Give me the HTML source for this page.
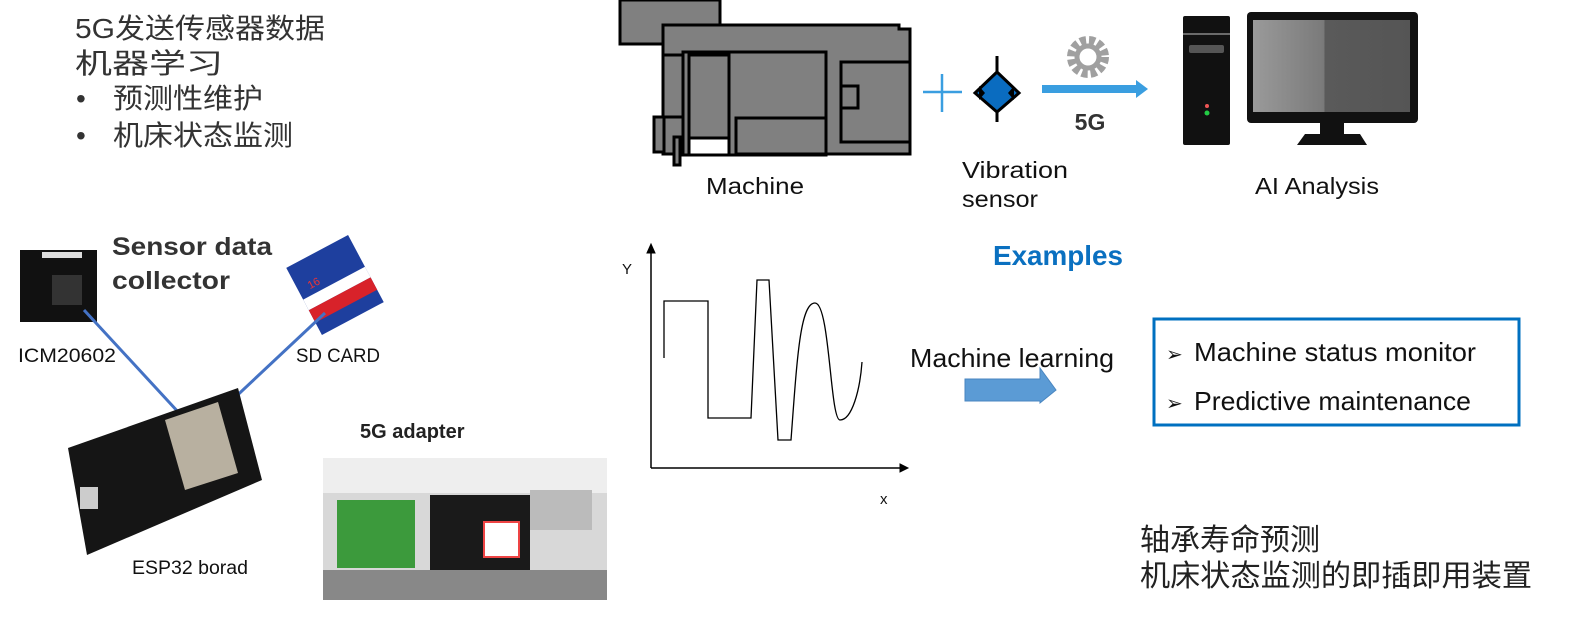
<!DOCTYPE html>
<html><head><meta charset="utf-8"><style>
body{margin:0;background:#fff;width:1570px;height:631px;overflow:hidden}
svg{display:block}
text{font-family:"Liberation Sans","Noto Sans CJK SC",sans-serif}
</style></head><body>
<svg width="1570" height="631" viewBox="0 0 1570 631">
<defs>
<linearGradient id="scr" x1="0" y1="0" x2="1" y2="0"><stop offset="0" stop-color="#9a9a9a"/><stop offset="0.45" stop-color="#7a7a7a"/><stop offset="0.46" stop-color="#5a5a5a"/><stop offset="1" stop-color="#555"/></linearGradient>
</defs>
<g font-size="28" fill="#333">
<text x="75" y="38" textLength="250" lengthAdjust="spacingAndGlyphs">5G发送传感器数据</text>
<text x="75" y="73" textLength="148" lengthAdjust="spacingAndGlyphs">机器学习</text>
<text x="76" y="108">•</text><text x="113" y="108" textLength="150" lengthAdjust="spacingAndGlyphs">预测性维护</text>
<text x="76" y="145">•</text><text x="113" y="145" textLength="180" lengthAdjust="spacingAndGlyphs">机床状态监测</text>
</g>
<g stroke="#000" stroke-width="3" fill="#808080">
<rect x="620" y="0" width="100" height="44"/>
<polygon points="663,25 899,25 899,29 910,29 910,154 663,154"/>
<rect x="663" y="55" width="22" height="62"/>
<rect x="683" y="52" width="143" height="103"/>
<rect x="689" y="55" width="40" height="98"/>
<rect x="841" y="62" width="69" height="80"/>
<rect x="841" y="86" width="17" height="22"/>
<rect x="736" y="118" width="90" height="36"/>
<rect x="689" y="138" width="40" height="17" fill="#fff"/>
<rect x="674" y="137" width="6" height="28"/>
<rect x="654" y="117" width="10" height="35"/>
</g>
<text x="706" y="194" font-size="23" fill="#111" textLength="98" lengthAdjust="spacingAndGlyphs">Machine</text>
<g stroke="#3a9ee0" stroke-width="2.5"><line x1="923" y1="92" x2="962" y2="92"/><line x1="942" y1="74" x2="942" y2="112"/></g>
<line x1="997" y1="56" x2="997" y2="122" stroke="#000" stroke-width="3"/>
<polygon points="997,72 1019,93 997,112 975,93" fill="#0a6cc0" stroke="#000" stroke-width="3"/>
<polygon points="979,86 979,100 985,93" fill="#000"/>
<polygon points="1014,86 1014,100 1008,93" fill="#000"/>
<text x="962" y="178" font-size="23" fill="#111" textLength="106" lengthAdjust="spacingAndGlyphs">Vibration</text>
<text x="962" y="207" font-size="23" fill="#111" textLength="76" lengthAdjust="spacingAndGlyphs">sensor</text>
<rect x="1042" y="85" width="96" height="8" fill="#3a9ee0"/>
<polygon points="1136,80 1148,89 1136,98" fill="#3a9ee0"/>
<circle cx="1088" cy="57" r="17" fill="none" stroke="#a0a0a0" stroke-width="8" stroke-dasharray="6 3"/>
<circle cx="1088" cy="57" r="11" fill="none" stroke="#a0a0a0" stroke-width="5"/>
<text x="1090" y="130" font-size="23" font-weight="bold" text-anchor="middle" fill="#333">5G</text>
<rect x="1183" y="16" width="47" height="129" rx="2" fill="#111"/>
<line x1="1183" y1="34" x2="1230" y2="34" stroke="#888" stroke-width="1.5"/>
<rect x="1189" y="45" width="35" height="8" rx="2" fill="#555"/>
<circle cx="1207" cy="106" r="2" fill="#e55"/><circle cx="1207" cy="113" r="2.5" fill="#2c4"/>
<rect x="1247" y="12" width="171" height="111" rx="4" fill="#111"/>
<rect x="1253" y="20" width="157" height="92" fill="url(#scr)"/>
<rect x="1320" y="123" width="24" height="12" fill="#111"/>
<polygon points="1305,134 1360,134 1367,145 1297,145" fill="#111"/>
<text x="1255" y="194" font-size="23" fill="#111" textLength="124" lengthAdjust="spacingAndGlyphs">AI Analysis</text>
<rect x="20" y="250" width="77" height="72" fill="#111"/>
<rect x="52" y="275" width="30" height="30" fill="#333"/>
<rect x="42" y="252" width="40" height="6" fill="#ddd"/>
<text x="112" y="255" font-size="25" font-weight="bold" fill="#333" textLength="160" lengthAdjust="spacingAndGlyphs">Sensor data</text>
<text x="112" y="289" font-size="25" font-weight="bold" fill="#333" textLength="118" lengthAdjust="spacingAndGlyphs">collector</text>
<g transform="translate(335,285) rotate(-28)">
<rect x="-35" y="-38" width="70" height="76" fill="#1e3f9e"/>
<rect x="-35" y="-2" width="70" height="12" fill="#fff"/>
<rect x="-35" y="10" width="70" height="14" fill="#d8222a"/>
<text x="-24" y="-8" font-size="11" fill="#e33">16</text>
</g>
<line x1="84" y1="310" x2="180" y2="414" stroke="#4472c4" stroke-width="3"/>
<line x1="325" y1="313" x2="228" y2="404" stroke="#4472c4" stroke-width="3"/>
<text x="18" y="362" font-size="19" fill="#111" textLength="98" lengthAdjust="spacingAndGlyphs">ICM20602</text>
<text x="296" y="362" font-size="19" fill="#111" textLength="84" lengthAdjust="spacingAndGlyphs">SD CARD</text>
<polygon points="68,448 238,388 262,480 87,555" fill="#151515"/>
<polygon points="165,420 218,402 238,473 185,490" fill="#b8b0a0"/>
<rect x="80" y="487" width="18" height="22" fill="#ccc"/>
<text x="132" y="574" font-size="19" fill="#111" textLength="116" lengthAdjust="spacingAndGlyphs">ESP32 borad</text>
<text x="360" y="438" font-size="20" font-weight="bold" fill="#222">5G adapter</text>
<rect x="323" y="458" width="284" height="142" fill="#d8d8d8"/>
<rect x="323" y="458" width="284" height="35" fill="#eee"/>
<rect x="337" y="500" width="78" height="68" fill="#3c9a3c"/>
<rect x="430" y="495" width="100" height="80" fill="#1a1a1a"/>
<rect x="484" y="522" width="35" height="35" fill="#fff" stroke="#e44" stroke-width="2"/>
<rect x="530" y="490" width="62" height="40" fill="#bbb"/>
<rect x="323" y="570" width="284" height="30" fill="#888"/>
<g stroke="#000" fill="none">
<line x1="651" y1="468" x2="900" y2="468" stroke-width="1.5"/>
<polygon points="900,464 908,468 900,472" fill="#000"/>
<line x1="651" y1="468" x2="651" y2="252" stroke-width="1.5"/>
<polygon points="647,253 651,244 655,253" fill="#000"/>
<path d="M664,358 L664,301 L708,301 L708,418 L751,418 L757,280 L769,280 L778,440 L791,440 C797,360 800,303 815,303 C830,303 830,420 840,420 C852,420 860,390 862,362" stroke-width="1.3"/>
</g>
<text x="622" y="274" font-size="15" font-family="Liberation Serif" fill="#111">Y</text>
<text x="880" y="504" font-size="15" font-family="Liberation Serif" fill="#111">x</text>
<text x="993" y="265" font-size="28" font-weight="bold" fill="#0a70c0" textLength="130" lengthAdjust="spacingAndGlyphs">Examples</text>
<text x="910" y="367" font-size="26" fill="#111" textLength="204" lengthAdjust="spacingAndGlyphs">Machine learning</text>
<polygon points="965,379 1040,379 1040,368 1056,390 1040,403 1040,401 965,401" fill="#5b9bd5" stroke="#4a86c0"/>
<rect x="1154" y="319" width="365" height="106" fill="none" stroke="#0070c0" stroke-width="3"/>
<text x="1166" y="361" font-size="20" fill="#111">➢</text>
<text x="1194" y="361" font-size="26" fill="#111" textLength="282" lengthAdjust="spacingAndGlyphs">Machine status monitor</text>
<text x="1166" y="410" font-size="20" fill="#111">➢</text>
<text x="1194" y="410" font-size="26" fill="#111" textLength="277" lengthAdjust="spacingAndGlyphs">Predictive maintenance</text>
<g font-size="30" fill="#222">
<text x="1140" y="550" textLength="180" lengthAdjust="spacingAndGlyphs">轴承寿命预测</text>
<text x="1140" y="586" textLength="392" lengthAdjust="spacingAndGlyphs">机床状态监测的即插即用装置</text>
</g>
</svg>
</body></html>
